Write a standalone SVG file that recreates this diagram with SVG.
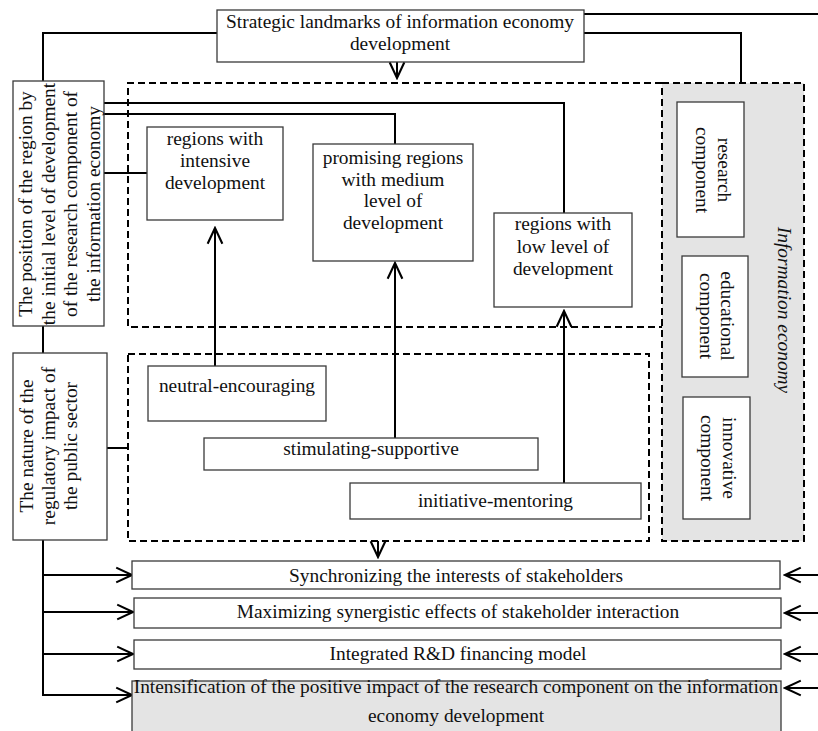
<svg xmlns="http://www.w3.org/2000/svg" width="818" height="731" viewBox="0 0 818 731">
<defs>
<style>
.box{fill:#fff;stroke:#3a3a3a;stroke-width:1.3}
.gbox{fill:#e4e4e4;stroke:#3a3a3a;stroke-width:1.3}
.dash{fill:none;stroke:#000;stroke-width:2;stroke-dasharray:7 4}
.gdash{fill:#e4e4e4;stroke:#000;stroke-width:2;stroke-dasharray:7 4}
.c{fill:none;stroke:#000;stroke-width:2}
.a{fill:none;stroke:#000;stroke-width:2;marker-end:url(#ah)}
text{font-family:"Liberation Serif","Times New Roman",serif;font-size:19.4px;fill:#111;text-anchor:middle}
.it{font-style:italic}
</style>
<marker id="ah" markerUnits="userSpaceOnUse" markerWidth="20" markerHeight="20" viewBox="-17 -9 19 18" refX="0" refY="0" orient="auto">
<path d="M-15,-7 L0,0 L-15,7" fill="none" stroke="#000" stroke-width="2"/>
</marker>
</defs>

<g id="frames">
<rect class="gdash" x="662" y="83" width="142" height="458"/>
<path class="dash" d="M662,83 H128 V327 H662"/>
<rect class="dash" x="128" y="354" width="521" height="187"/>
</g>

<g id="connectors">
<path class="c" d="M584,14 H818"/>
<path class="c" d="M217,33 H43 V81"/>
<path class="c" d="M584,33 H741 V83"/>
<path class="a" d="M397,62 V78"/>
<path class="c" d="M104,103 H564 V213"/>
<path class="c" d="M104,114 H395 V144"/>
<path class="c" d="M104,173 H147"/>
<path class="a" d="M215,366 V228"/>
<path class="a" d="M395,438 V263"/>
<path class="a" d="M564,483 V311"/>
<path class="c" d="M107,448 H128"/>
<path class="c" d="M43,326 V353"/>
<path class="a" d="M43,540 V695 H132"/>
<path class="a" d="M43,575 H132"/>
<path class="a" d="M43,612 H133"/>
<path class="a" d="M43,654 H133"/>
<path class="a" d="M378,541 V557"/>
<path class="a" d="M818,575 H785"/>
<path class="a" d="M818,613 H785"/>
<path class="a" d="M818,654 H785"/>
<path class="a" d="M818,688 H785"/>
</g>

<g id="strategic">
<rect class="box" x="217" y="10" width="367" height="52"/>
<text x="400" y="28">Strategic landmarks of information economy</text>
<text x="400" y="50">development</text>
</g>

<g id="position">
<rect class="box" x="13" y="81" width="91" height="245"/>
<text transform="translate(32,204) rotate(-90)"><tspan x="0" dy="0">The position of the region by</tspan><tspan x="0" dy="22.7">the initial level of development</tspan><tspan x="0" dy="22.7">of the research component of</tspan><tspan x="0" dy="22.7">the information economy</tspan></text>
</g>

<g id="nature">
<rect class="box" x="13" y="353" width="94" height="187"/>
<text transform="translate(33,446) rotate(-90)"><tspan x="0" dy="0">The nature of the</tspan><tspan x="0" dy="22">regulatory impact of</tspan><tspan x="0" dy="22">the public sector</tspan></text>
</g>

<g id="intensive">
<rect class="box" x="147" y="127" width="136" height="93"/>
<text x="215" y="145">regions with</text>
<text x="215" y="167">intensive</text>
<text x="215" y="189">development</text>
</g>

<g id="promising">
<rect class="box" x="313" y="144" width="160" height="117"/>
<text x="393" y="164">promising regions</text>
<text x="393" y="186">with medium</text>
<text x="393" y="207">level of</text>
<text x="393" y="229">development</text>
</g>

<g id="low">
<rect class="box" x="494" y="213" width="138" height="94"/>
<text x="563" y="230">regions with</text>
<text x="563" y="253">low level of</text>
<text x="563" y="275">development</text>
</g>

<g id="neutral">
<rect class="box" x="148" y="366" width="178" height="55"/>
<text x="237" y="392">neutral-encouraging</text>
</g>

<g id="stimulating">
<rect class="box" x="204" y="438" width="334" height="32"/>
<text x="371" y="455">stimulating-supportive</text>
</g>

<g id="initiative">
<rect class="box" x="350" y="483" width="291" height="36"/>
<text x="495.5" y="507">initiative-mentoring</text>
</g>

<g id="information-economy">
<text class="it" transform="translate(778,310) rotate(90)">Information economy</text>
</g>

<g id="research">
<rect class="box" x="677" y="102" width="67" height="135"/>
<text transform="translate(718,170) rotate(90)"><tspan x="0" dy="0">research</tspan><tspan x="0" dy="22">component</tspan></text>
</g>

<g id="educational">
<rect class="box" x="682" y="256" width="66" height="121"/>
<text transform="translate(721,316) rotate(90)"><tspan x="0" dy="0">educational</tspan><tspan x="0" dy="21.5">component</tspan></text>
</g>

<g id="innovative">
<rect class="box" x="683" y="397" width="67" height="122"/>
<text transform="translate(723,458) rotate(90)"><tspan x="0" dy="0">innovative</tspan><tspan x="0" dy="22">component</tspan></text>
</g>

<g id="synchronizing">
<rect class="box" x="132" y="561" width="648" height="28"/>
<text x="456" y="582">Synchronizing the interests of stakeholders</text>
</g>

<g id="maximizing">
<rect class="box" x="134" y="598" width="647" height="30"/>
<text x="458" y="618">Maximizing synergistic effects of stakeholder interaction</text>
</g>

<g id="integrated">
<rect class="box" x="134" y="640" width="647" height="29"/>
<text x="458" y="660">Integrated R&amp;D financing model</text>
</g>

<g id="intensification">
<rect class="gbox" x="132" y="681" width="649" height="55"/>
<text x="456" y="693">Intensification of the positive impact of the research component on the information</text>
<text x="456" y="722">economy development</text>
</g>
</svg>
